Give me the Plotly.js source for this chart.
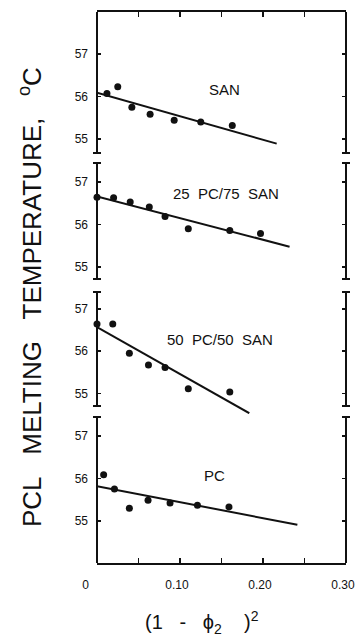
<!DOCTYPE html>
<html>
<head>
<meta charset="utf-8">
<script src="https://cdn.plot.ly/plotly-3.0.1.min.js"></script>
<style>
  html, body { margin: 0; padding: 0; background: #fff; }
  #chart { width: 358px; height: 637px; }
</style>
</head>
<body>
<div id="chart"></div>
<script>
// PCL melting temperature vs (1 - phi2)^2 for four blend series
const panelLabels = ["SAN", "25\u00a0\u00a0PC/75\u00a0\u00a0SAN", "50\u00a0\u00a0PC/50\u00a0\u00a0SAN", "PC"];

const sanX = [0.012, 0.025, 0.042, 0.064, 0.093, 0.125, 0.163];
const sanY = [56.07, 56.23, 55.75, 55.58, 55.44, 55.40, 55.32];
const sanFitX = [0, 0.2165];
const sanFitY = [56.09, 54.89];

const pc25X = [0, 0.020, 0.040, 0.063, 0.082, 0.110, 0.160, 0.197];
const pc25Y = [56.64, 56.63, 56.53, 56.41, 56.19, 55.90, 55.86, 55.79];
const pc25FitX = [0, 0.232];
const pc25FitY = [56.66, 55.48];

const pc50X = [0, 0.019, 0.039, 0.062, 0.082, 0.110, 0.160];
const pc50Y = [56.64, 56.64, 55.95, 55.67, 55.61, 55.11, 55.03];
const pc50FitX = [0, 0.1835];
const pc50FitY = [56.57, 54.53];

const pcX = [0.008, 0.021, 0.039, 0.0615, 0.088, 0.121, 0.159];
const pcY = [56.09, 55.75, 55.30, 55.49, 55.42, 55.37, 55.33];
const pcFitX = [0, 0.2414];
const pcFitY = [55.82, 54.91];

const yTickVals = [55, 56, 57];
const yTickText = ["55", "56", "57"];
const xTickVals = [0, 0.10, 0.20, 0.30];
const xTickText = ["0\u00a0\u00a0\u00a0\u00a0\u00a0", "0.10", "0.20", "0.30"];
const xMinorStep = 0.05;

// page geometry (pixels)
const W = 358, H = 637;
const M = { l: 97, r: 12, t: 12, b: 74 };
const plotH = H - M.t - M.b;
const plotW = W - M.l - M.r;
const py = p => (H - M.b - p) / plotH;   // pixel row -> paper y
const pxW = p => p / plotW;              // pixel width -> paper x

// frame extents of each panel (top, bottom) in pixel rows
const frames = [[12, 153], [163, 279], [292, 406], [417, 563]];
// plotting domains (third panel reaches a bit lower so its fit line is not cut)
const domains = [[153, 12], [279, 163], [414, 292], [563, 417]];
const yRanges = [[54.67, 57.99], [54.72, 57.447], [54.512, 57.40], [54.01, 57.447]];

const black = "#111";
const seriesX = [sanX, pc25X, pc50X, pcX];
const seriesY = [sanY, pc25Y, pc50Y, pcY];
const fitX = [sanFitX, pc25FitX, pc50FitX, pcFitX];
const fitY = [sanFitY, pc25FitY, pc50FitY, pcFitY];
const labelPos = [[0.154, 56.16], [0.156, 56.74], [0.148, 56.28], [0.142, 56.08]];

const data = [];
const layout = {
  width: W, height: H,
  margin: M,
  paper_bgcolor: "#fff", plot_bgcolor: "rgba(0,0,0,0)",
  showlegend: false,
  font: { family: "Liberation Sans, Arial, sans-serif", color: black, size: 12 },
  shapes: [], annotations: []
};

for (let i = 0; i < 4; i++) {
  const n = i === 0 ? "" : String(i + 1);
  const xa = "x" + n, ya = "y" + n;
  data.push({
    x: fitX[i], y: fitY[i], xaxis: xa, yaxis: ya,
    mode: "lines", line: { color: black, width: 2 }, hoverinfo: "skip"
  });
  data.push({
    x: seriesX[i], y: seriesY[i], xaxis: xa, yaxis: ya,
    mode: "markers", cliponaxis: false,
    marker: { color: black, size: 7 }
  });

  const yKey = "yaxis" + n, xKey = "xaxis" + n;
  layout[yKey] = {
    domain: [py(domains[i][0]), py(domains[i][1])],
    range: yRanges[i], anchor: xa,
    showgrid: false, zeroline: false, showline: false,
    tickmode: "array", tickvals: yTickVals, ticktext: yTickText,
    ticks: "inside", ticklen: 4, tickwidth: 1.3, tickcolor: black,
    mirror: "ticks", ticklabelstandoff: 8,
    tickfont: { size: 12, color: black }
  };
  const xBase = {
    range: [0, 0.30001], anchor: ya, showgrid: false, zeroline: false,
    tickmode: "array", tickvals: xTickVals, ticktext: xTickText,
    minor: { dtick: xMinorStep, tick0: 0, ticks: "inside", ticklen: 5, tickwidth: 1.3, tickcolor: black, showgrid: false }
  };
  if (i === 0) {
    layout[xKey] = Object.assign(xBase, {
      side: "top", showline: true, linewidth: 2, linecolor: black,
      ticks: "inside", ticklen: 5, tickwidth: 1.3, tickcolor: black,
      showticklabels: false
    });
  } else if (i === 3) {
    layout[xKey] = Object.assign(xBase, {
      matches: "x", showline: true, linewidth: 2, linecolor: black,
      ticks: "inside", ticklen: 5, tickwidth: 1.3, tickcolor: black,
      ticklabelstandoff: 10, ticklabelshift: -3, ticklabeloverflow: "allow",
      tickfont: { size: 12, color: black }
    });
  } else {
    layout[xKey] = Object.assign(xBase, { matches: "x", visible: false });
  }

  // side lines of the panel frame with short end caps
  const [ft, fb] = frames[i];
  for (const xp of [0, 1]) {
    layout.shapes.push({
      type: "line", xref: "paper", yref: "paper",
      x0: xp, x1: xp, y0: py(fb), y1: py(ft),
      line: { color: black, width: 2 }
    });
    const caps = [];
    if (i > 0) caps.push(ft);
    if (i < 3) caps.push(fb);
    for (const c of caps) {
      layout.shapes.push({
        type: "line", xref: "paper", yref: "paper",
        x0: xp - pxW(4), x1: xp + pxW(4), y0: py(c), y1: py(c),
        line: { color: black, width: 2 }
      });
    }
  }

  layout.annotations.push({
    text: panelLabels[i], xref: xa, yref: ya,
    x: labelPos[i][0], y: labelPos[i][1], showarrow: false,
    font: { size: 15, color: black }
  });
}

// axis titles
layout.annotations.push({
  text: "PCL\u00a0\u00a0\u00a0MELTING\u00a0\u00a0\u00a0TEMPERATURE,\u00a0\u00a0\u00a0<sup>o</sup>C",
  xref: "paper", yref: "paper", x: (31 - M.l) / plotW, y: py(297),
  xanchor: "center", yanchor: "middle",
  textangle: -90, showarrow: false,
  font: { size: 26, color: black }
});
layout.annotations.push({
  text: "(1\u00a0\u00a0\u00a0-\u00a0\u00a0\u00a0\u03d5<sub>2</sub>\u00a0\u00a0\u00a0\u00a0)<sup>2</sup>",
  xref: "paper", yref: "paper", x: (202 - M.l) / plotW, y: py(622),
  xanchor: "center", yanchor: "middle",
  showarrow: false,
  font: { size: 20, color: black }
});

Plotly.newPlot("chart", data, layout, { displayModeBar: false, staticPlot: true });
</script>
</body>
</html>
